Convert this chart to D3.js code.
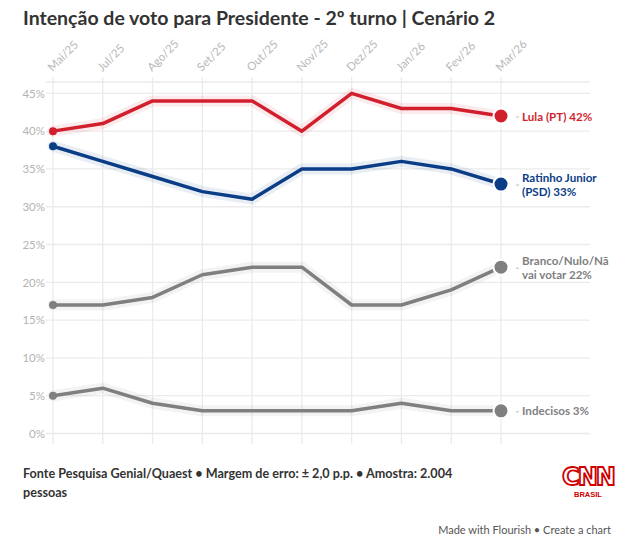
<!DOCTYPE html>
<html>
<head>
    <meta charset="utf-8">
    <title>Intenção de voto para Presidente</title>
    <script src="https://cdnjs.cloudflare.com/ajax/libs/d3/7.8.5/d3.min.js"></script>
    <style>
        html, body {
            margin: 0;
            padding: 0;
            background: #fff;
            width: 628px;
            height: 543px;
            overflow: hidden;
            font-family: 'Source Sans Pro', Lato, 'Noto Sans', sans-serif;
        }
        svg { display: block; }
    </style>
</head>
<body>
    <div id="chart"></div>
    <script>
        // months on the x axis
        const months = ["Mai/25", "Jul/25", "Ago/25", "Set/25", "Out/25", "Nov/25", "Dez/25", "Jan/26", "Fev/26", "Mar/26"];
        const yTicks = [0, 5, 10, 15, 20, 25, 30, 35, 40, 45];

        const lula = [40, 41, 44, 44, 44, 40, 45, 43, 43, 42];
        const ratinho = [38, 36, 34, 32, 31, 35, 35, 36, 35, 33];
        const branco = [17, 17, 18, 21, 22, 22, 17, 17, 19, 22];
        const indecisos = [5, 6, 4, 3, 3, 3, 3, 4, 3, 3];

        const seriesNames = ["Lula (PT)", "Ratinho Junior (PSD)", "Branco/Nulo/Não vai votar", "Indecisos"];
        const labelLines = [["Lula (PT) 42%"], ["Ratinho Junior", "(PSD) 33%"], ["Branco/Nulo/Nã", "vai votar 22%"], ["Indecisos 3%"]];
        const seriesColors = ["#d21f2d", "#0b3d87", "#7f7f7f", "#7f7f7f"];

        const series = [lula, ratinho, branco, indecisos].map((values, i) => ({
            name: seriesNames[i], values: values, color: seriesColors[i], label: labelLines[i]
        }));

        const W = 628, H = 543;
        const svg = d3.select("#chart").append("svg")
            .attr("width", W)
            .attr("height", H);

        svg.append("text")
            .attr("x", 23).attr("y", 25)
            .attr("font-size", 19.5)
            .attr("font-weight", 700)
            .attr("fill", "#333")
            .text("Intenção de voto para Presidente - 2º turno | Cenário 2");

        const x = d3.scalePoint().domain(months).range([53, 501]);
        const y = d3.scaleLinear().domain([0, 46.5]).range([433.5, 82]);

        // grid
        const grid = svg.append("g");
        grid.selectAll(".hline")
            .data(yTicks.concat([46.5]))
            .enter().append("line")
            .attr("x1", 46).attr("x2", 590)
            .attr("y1", d => y(d)).attr("y2", d => y(d))
            .attr("stroke", "#ebebeb").attr("stroke-width", 1.3);
        grid.selectAll(".vline")
            .data(months)
            .enter().append("line")
            .attr("x1", d => x(d)).attr("x2", d => x(d))
            .attr("y1", 77).attr("y2", 444)
            .attr("stroke", "#ebebeb").attr("stroke-width", 1.3);

        // y axis labels
        const yAxis = d3.axisLeft(y).tickValues(yTicks).tickFormat(d => d + "%").tickSize(0).tickPadding(0);
        const gy = svg.append("g").attr("transform", "translate(45,0)").call(yAxis);
        gy.select(".domain").remove();
        gy.selectAll("text")
            .attr("font-size", 11.5)
            .attr("fill", "#b3b3b3")
            .attr("font-family", "'Source Sans Pro', Lato, sans-serif");

        // x axis labels, rotated
        const xAxis = d3.axisTop(x).tickSize(0).tickPadding(0);
        const gx = svg.append("g").attr("transform", "translate(0,72)").call(xAxis);
        gx.select(".domain").remove();
        gx.selectAll("text")
            .attr("font-size", 11.5)
            .attr("fill", "#b8b8b8")
            .attr("font-family", "'Source Sans Pro', Lato, sans-serif")
            .attr("text-anchor", "start")
            .attr("dy", 0)
            .attr("transform", "translate(-1,0) rotate(-45)");

        const line = d3.line()
            .x((d, i) => x(months[i]))
            .y(d => y(d));

        const gs = svg.append("g");
        series.forEach(s => {
            // halo
            gs.append("path")
                .attr("d", line(s.values))
                .attr("fill", "none")
                .attr("stroke", s.color)
                .attr("stroke-opacity", 0.09)
                .attr("stroke-width", 11)
                .attr("stroke-linejoin", "round")
                .attr("stroke-linecap", "round");
            gs.append("path")
                .attr("d", line(s.values))
                .attr("fill", "none")
                .attr("stroke", s.color)
                .attr("stroke-width", 3.5)
                .attr("stroke-linejoin", "round");
            gs.append("circle")
                .attr("cx", x(months[0]))
                .attr("cy", y(s.values[0]))
                .attr("r", 4)
                .attr("fill", s.color);
            const last = s.values.length - 1;
            gs.append("circle")
                .attr("cx", x(months[last]))
                .attr("cy", y(s.values[last]))
                .attr("r", 7.5)
                .attr("fill", s.color)
                .attr("stroke", "#fff")
                .attr("stroke-width", 2);

            const ly = y(s.values[last]);
            gs.append("line")
                .attr("x1", 516).attr("x2", 519)
                .attr("y1", ly + 1).attr("y2", ly + 1)
                .attr("stroke", "#bbb").attr("stroke-width", 1);
            // one text per line so they stack cleanly
            const step = 14;
            s.label.forEach((l, i) => {
                gs.append("text")
                    .attr("x", 522)
                    .attr("y", ly - (s.label.length - 1) * step / 2 + 4.5 + i * step)
                    .attr("font-size", 11.6)
                    .attr("font-weight", 700)
                    .attr("fill", s.color)
                    .text(l);
            });
        });

        // footer
        const foot = svg.append("text")
            .attr("font-size", 12.6)
            .attr("font-weight", 700)
            .attr("fill", "#333");
        foot.append("tspan").attr("x", 23).attr("y", 478)
            .text("Fonte Pesquisa Genial/Quaest • Margem de erro: ± 2,0 p.p. • Amostra: 2.004");
        foot.append("tspan").attr("x", 23).attr("y", 497).text("pessoas");

        // logo
        svg.append("text")
            .attr("x", 588).attr("y", 485)
            .attr("text-anchor", "middle")
            .attr("font-size", 24)
            .attr("font-weight", 700)
            .attr("letter-spacing", -2)
            .attr("fill", "none")
            .attr("stroke", "#cc0000")
            .attr("stroke-width", 1.8)
            .attr("font-family", "'DejaVu Sans', sans-serif")
            .text("CNN");
        svg.append("text")
            .attr("x", 588).attr("y", 497)
            .attr("text-anchor", "middle")
            .attr("font-size", 7.5)
            .attr("font-weight", 700)
            .attr("fill", "#cc0000")
            .attr("font-family", "'Liberation Sans', Arial, sans-serif")
            .text("BRASIL");

        svg.append("text")
            .attr("x", 611).attr("y", 534)
            .attr("text-anchor", "end")
            .attr("font-size", 11)
            .attr("fill", "#555")
            .text("Made with Flourish • Create a chart");
    </script>
</body>
</html>
